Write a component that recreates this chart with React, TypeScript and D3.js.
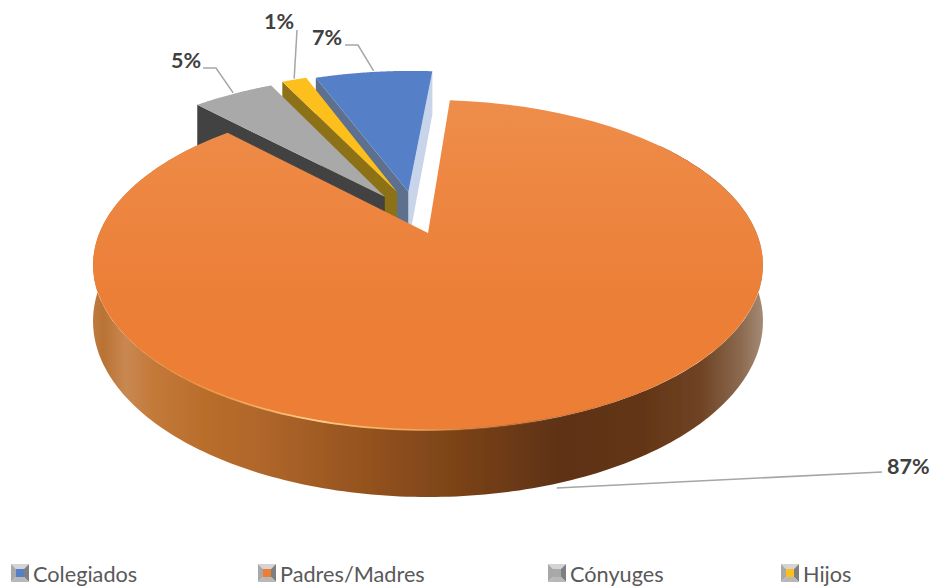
import React from "react";
import * as d3 from "d3";

const categories = ["Colegiados", "Padres/Madres", "Cónyuges", "Hijos"];
const values = [7.1, 86.5, 4.9, 1.5];
const pctLabels = ["7%", "87%", "5%", "1%"];
const explodeDist = [0.28, 0, 0.275, 0.29];
const explodeDir = [-13, 0, -30, -20];
const topColors = ["#5580c8", "#ed7d31", "#a9a9a9", "#fcbf1e"];
const leftWall = ["#5d6f8d", "#ed7d31", "#434343", "#8d7118"];
const rightWall = ["#c7d4ea", "#ed7d31", "#434343", "#8d7118"];
const legendX = [11, 258, 548, 781];
const labelPos = [
  { x: 312, y: 45, elbow: [358, 45], end: [345, 45] },
  { x: 887, y: 474, elbow: [882, 472], end: [882, 472] },
  { x: 171, y: 68, elbow: [216, 68], end: [203, 68] },
  { x: 264, y: 29, elbow: [297, 30], end: [297, 30] },
];
const sideStops: [number, string][] = [
  [92, "#bd7a40"], [102, "#b97234"], [125, "#c98852"], [150, "#c47a3a"], [200, "#b96e2c"], [260, "#b0662a"],
  [385, "#8f4f1c"], [480, "#743f17"], [560, "#5e3213"], [640, "#633516"], [700, "#6f4324"],
  [740, "#8b6a50"], [762, "#a58a74"],
];

const W = 932, H = 586;
const APEX = [428, 233];
const A = 328.6, B = 158.8, K = 0.194, DEPTH = 54;
const FONT = "Lato, Carlito, 'Open Sans', sans-serif";

function project(u: number, v: number, down = 0): [number, number] {
  const w = 1 - K * v;
  return [APEX[0] + (A * u) / w, APEX[1] + (B * v + down * DEPTH) / w];
}
function rim(theta: number, off: [number, number], down = 0) {
  return project(Math.sin(theta) + off[0], -Math.cos(theta) + off[1], down);
}
const deg = (d: number) => (d * Math.PI) / 180;
const line = d3.line();

const pieGen = d3.pie<number>().sort(null).startAngle(deg(-21)).endAngle(deg(339));
const arcs = pieGen(values);

function App() {
  const slices = arcs.map((a, i) => {
    const mid = (a.startAngle + a.endAngle) / 2;
    const e = explodeDist[i];
    const dir = deg(explodeDir[i]);
    const off: [number, number] = [e * Math.sin(dir), -e * Math.cos(dir)];
    const ths = d3.range(0, 81).map((k) => a.startAngle + ((a.endAngle - a.startAngle) * k) / 80);
    const apexTop = project(off[0], off[1]);
    const apexBot = project(off[0], off[1], 1);
    const top = line([apexTop, ...ths.map((t) => rim(t, off))])! + "Z";
    const left = line([apexTop, rim(a.startAngle, off), rim(a.startAngle, off, 1), apexBot])! + "Z";
    const right = line([apexTop, rim(a.endAngle, off), rim(a.endAngle, off, 1), apexBot])! + "Z";
    return { i, a, mid, off, top, left, right };
  });

  const orange = slices[1];
  const sideThetas = d3.range(52, 309, 1).map(deg);
  const sidePath =
    line([
      ...sideThetas.map((t) => rim(t, [0, 0])),
      ...[...sideThetas].reverse().map((t) => rim(t, [0, 0], 1)),
    ])! + "Z";
  const bevelThetas = d3.range(100, 285, 1).map(deg);
  const bevelPath = line(bevelThetas.map((t) => rim(t, [0, 0])))!;

  const xScale = d3.scaleLinear().domain([92, 762]).range([0, 1]);

  return (
    <svg width={W} height={H} style={{ position: "absolute", left: 0, top: 0, background: "#fff" }}>
      <defs>
        <linearGradient id="side" x1="0" x2="1" y1="0" y2="0">
          {sideStops.map(([x, c]) => (
            <stop key={x} offset={xScale(x)} stopColor={c} />
          ))}
        </linearGradient>
        <linearGradient id="orangeTop" gradientUnits="userSpaceOnUse" x1="0" x2="0" y1="100" y2="430">
          <stop offset="0" stopColor="#ee8d4a" />
          <stop offset="0.6" stopColor="#ec7f37" />
          <stop offset="1" stopColor="#ed7e34" />
        </linearGradient>
        <linearGradient id="bevel" gradientUnits="userSpaceOnUse" x1="92" x2="762" y1="0" y2="0">
          <stop offset="0.02" stopColor="#d9782c" stopOpacity="0" />
          <stop offset="0.16" stopColor="#f0923c" stopOpacity="0.7" />
          <stop offset="0.33" stopColor="#ffd08c" stopOpacity="1" />
          <stop offset="0.48" stopColor="#f4a860" stopOpacity="0.8" />
          <stop offset="0.62" stopColor="#a8602a" stopOpacity="0.5" />
          <stop offset="0.85" stopColor="#6a3a18" stopOpacity="0" />
        </linearGradient>
        <filter id="soft" x="-5%" y="-5%" width="110%" height="110%">
          <feGaussianBlur stdDeviation="0.5" />
        </filter>
      </defs>

      <g filter="url(#soft)">
        {[0, 3, 2].map((i) => {
          const s = slices[i];
          return (
            <g key={i}>
              {i === 0 && <path d={s.right} fill={rightWall[i]} />}
              <path d={s.left} fill={leftWall[i]} />
              <path d={s.top} fill={topColors[i]} />
            </g>
          );
        })}
        <path d={sidePath} fill="url(#side)" />
        <path d={orange.top} fill="url(#orangeTop)" />
        <path d={bevelPath} fill="none" stroke="url(#bevel)" strokeWidth={1.8} />
      </g>

      {slices.map((s) => {
        const p = labelPos[s.i];
        const isBig = s.i === 1;
        const anchor = rim(s.mid, s.off, isBig ? 1 : 0);
        const start: [number, number] = isBig ? [anchor[0] - 7, anchor[1] + 6] : [anchor[0], anchor[1] - 1];
        const pts: [number, number][] = [start, p.elbow as [number, number], p.end as [number, number]];
        return (
          <g key={s.i}>
            <path d={line(pts)!} fill="none" stroke="#a6a6a6" strokeWidth={1.5} />
            <text x={p.x} y={p.y} fontFamily={FONT} fontWeight={700} fontSize={21.5} fill="#404040">
              {pctLabels[s.i]}
            </text>
          </g>
        );
      })}

      {categories.map((c, i) => {
        const x = legendX[i], y = 564, S = 18, I = 5;
        const q = (pts: number[][]) => line(pts as [number, number][])! + "Z";
        return (
          <g key={c}>
            <path d={q([[x, y], [x + S, y], [x + S - I, y + I], [x + I, y + I]])} fill="#d4d4d4" />
            <path d={q([[x, y], [x + I, y + I], [x + I, y + S - I], [x, y + S]])} fill="#a8a8a8" />
            <path d={q([[x + S, y], [x + S, y + S], [x + S - I, y + S - I], [x + S - I, y + I]])} fill="#7f7f7f" />
            <path d={q([[x, y + S], [x + I, y + S - I], [x + S - I, y + S - I], [x + S, y + S]])} fill="#b8b8b8" />
            <rect x={x + I} y={y + I} width={S - 2 * I} height={S - 2 * I} fill={topColors[i]} />
            <text x={x + 22} y={582} fontFamily={FONT} fontSize={21.7} fill="#595959">
              {c}
            </text>
          </g>
        );
      })}
    </svg>
  );
}

export default App;
